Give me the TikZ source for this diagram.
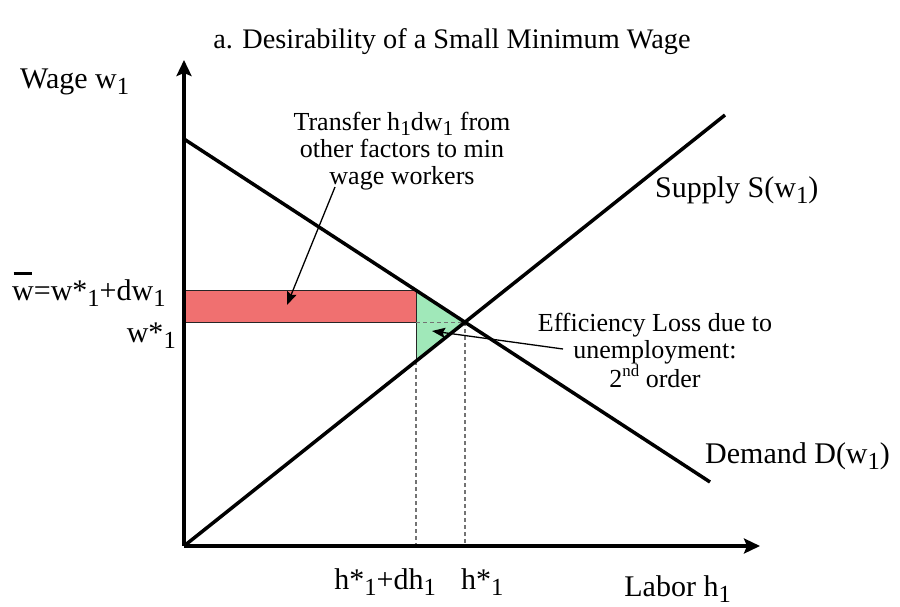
\documentclass[tikz,border=0pt]{standalone}
\usepackage{fontspec}
\setmainfont{Liberation Serif}
\usetikzlibrary{arrows.meta}
\newcommand{\sbs}[1]{\raisebox{-0.2em}{\scalebox{0.82}{#1}}}
\newcommand{\sps}[1]{\raisebox{0.42em}{\scalebox{0.65}{#1}}}
\newcommand{\wbar}{\leavevmode\rlap{\hspace{0.05em}\rule[0.85em]{0.62em}{0.07em}}w}
\definecolor{redfill}{RGB}{240,112,112}
\definecolor{greenfill}{RGB}{160,232,185}
\begin{document}
\begin{tikzpicture}[x=1pt,y=-1pt,
  axis/.style={line width=4pt,-{Stealth[length=16pt,width=15pt,inset=3pt]}},
  curve/.style={line width=3.5pt},
  guide/.style={draw=black!55,line width=1.4pt,dash pattern=on 4pt off 3pt},
  edge/.style={draw=black!85,line width=1pt},
  callout/.style={line width=1.3pt,-{Stealth[length=13pt,width=10pt,inset=2pt]}},
  lbl/.style={font=\rmfamily\fontsize{30}{32}\selectfont,inner sep=0pt},
  note/.style={font=\rmfamily\fontsize{26}{27}\selectfont,inner sep=0pt,align=center},
  ttl/.style={font=\rmfamily\fontsize{28.3}{30}\selectfont,inner sep=0pt}]
\useasboundingbox (0,0) rectangle (900,606);
% key points
\coordinate (O) at (184,546);
\coordinate (Ytip) at (184,60);
\coordinate (Xtip) at (760,546);
\coordinate (D0) at (184,139);
\coordinate (D1) at (710,482);
\coordinate (S1) at (725,115);
\coordinate (E) at (464.9,322.2);
\coordinate (A) at (416,290.3);
\coordinate (B) at (416,361.2);
\coordinate (Ab) at (416,322.2);
\coordinate (R0) at (185,290.3);
\coordinate (R1) at (185,322.2);
\coordinate (Bx) at (416,546);
\coordinate (Ex) at (464.9,546);
% areas
\fill[redfill] (R0) rectangle (Ab);
\fill[greenfill] (A) -- (E) -- (B) -- cycle;
\draw[edge] (R0) -- (A) -- (B);
\draw[edge] (R1) -- (Ab);
% guides
\draw[guide] (Ab) -- (E);
\draw[guide] (B) -- (Bx);
\draw[guide] (E) -- (Ex);
% curves
\draw[curve] (D0) -- (D1);
\draw[curve] (O) -- (S1);
% axes
\draw[axis] (O) -- (Ytip);
\draw[axis] (O) -- (Xtip);
% labels
\node[ttl,anchor=base] (title) at (452,48) {a. Desirability of a Small Minimum Wage};
\node[lbl,anchor=base west] (ylab) at (20,88) {Wage w\sbs{1}};
\node[lbl,anchor=base west] (wbarlab) at (12,300) {\wbar=w*\sbs{1}+dw\sbs{1}};
\node[lbl,anchor=base east] (wstar) at (176,342) {w*\sbs{1}};
\node[lbl,anchor=base east] (hdh) at (436,589) {h*\sbs{1}+dh\sbs{1}};
\node[lbl,anchor=base west] (hstar) at (461,589) {h*\sbs{1}};
\node[lbl,anchor=base east] (xlab) at (731,596) {Labor h\sbs{1}};
\node[lbl,anchor=base west] (slab) at (655,197) {Supply S(w\sbs{1})};
\node[lbl,anchor=base west] (dlab) at (705,463) {Demand D(w\sbs{1})};
\node[note,anchor=north] (transfer) at (402,112) {Transfer h\sbs{1}dw\sbs{1} from\\other factors to min\\wage workers};
\node[note,anchor=north] (eff) at (655,313) {Efficiency Loss due to\\unemployment:\\2\sps{nd} order};
% callouts
\coordinate (t0) at (335,187);
\coordinate (t1) at (287,305);
\draw[callout] (t0) -- (t1);
\coordinate (e0) at (563,349);
\coordinate (e1) at (432,331);
\draw[callout] (e0) -- (e1);
\end{tikzpicture}
\end{document}
